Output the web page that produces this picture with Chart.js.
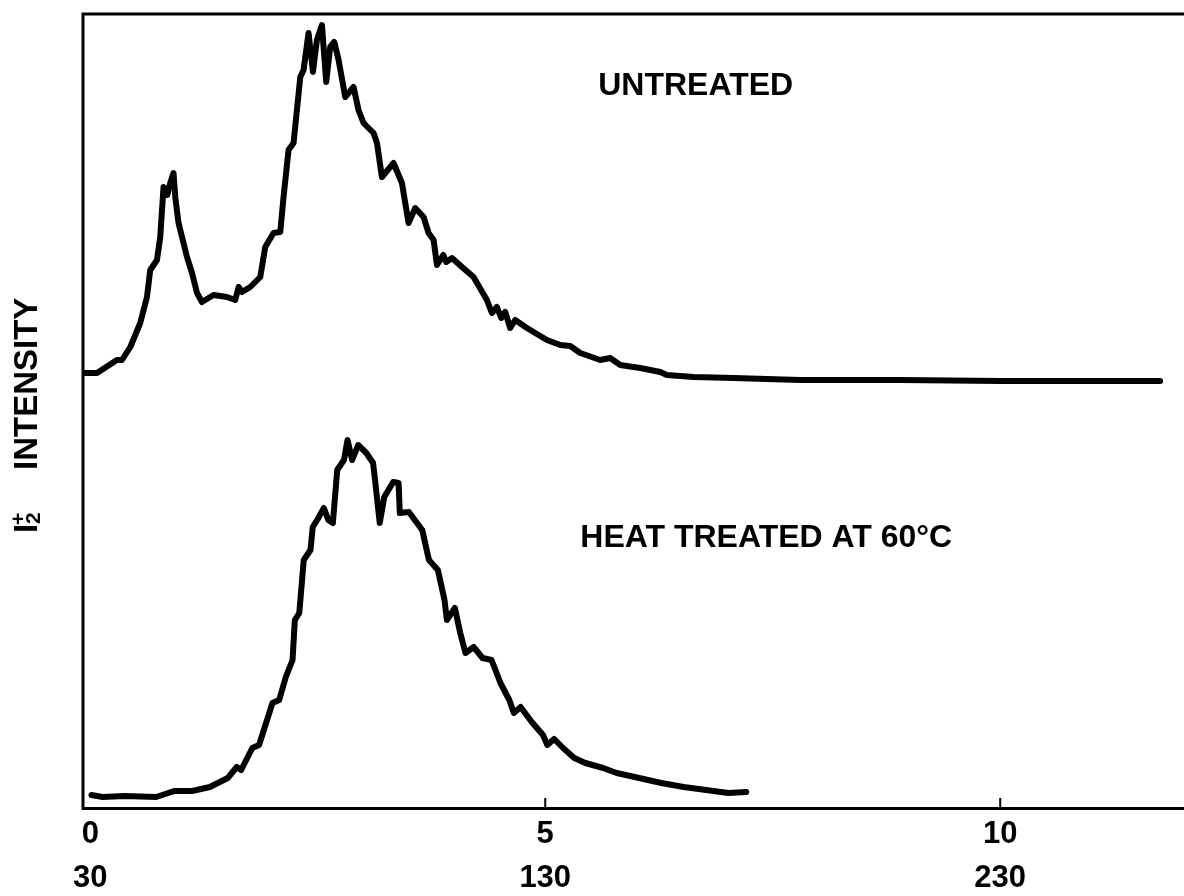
<!DOCTYPE html>
<html>
<head>
<meta charset="utf-8">
<script src="https://cdn.jsdelivr.net/npm/chart.js@4"></script>
<style>
  html, body { margin: 0; padding: 0; background: #fff; overflow: hidden; }
  #wrap { width: 1184px; height: 896px; }
</style>
</head>
<body>
<div id="wrap"><canvas id="chart"></canvas></div>
<script>
// x axis ticks: upper row (time) and lower row (temperature)
const timeTicks = [0, 5, 10];
const tempLabels = ['30', '130', '230'];

// untreated curve
const untreatedX = [-0.055, 0.074, 0.293, 0.348, 0.440, 0.549, 0.623, 0.659, 0.733, 0.769,
    0.805, 0.824, 0.846, 0.879, 0.915, 0.934, 0.970, 1.063, 1.118, 1.173,
    1.227, 1.355, 1.502, 1.593, 1.630, 1.667, 1.758, 1.868, 1.923, 2.014,
    2.088, 2.124, 2.179, 2.234, 2.308, 2.344, 2.399, 2.447, 2.491, 2.546,
    2.593, 2.637, 2.681, 2.729, 2.802, 2.893, 2.948, 3.003, 3.113, 3.151,
    3.205, 3.333, 3.425, 3.498, 3.571, 3.663, 3.718, 3.773, 3.810, 3.879,
    3.912, 3.975, 4.085, 4.212, 4.359, 4.414, 4.469, 4.516, 4.560, 4.615,
    4.670, 4.799, 4.945, 5.019, 5.165, 5.275, 5.385, 5.604, 5.714, 5.824,
    6.044, 6.264, 6.337, 6.630, 7.070, 7.802, 8.901, 10.000, 10.879, 11.758];
const untreatedY = [435, 435, 448, 448, 461, 485, 511, 538, 548, 571,
    621, 618, 613, 625, 635, 611, 585, 551, 535, 515,
    506, 513, 511, 508, 521, 516, 521, 531, 561, 575,
    576, 611, 658, 665, 731, 738, 775, 736, 768, 783,
    726, 761, 766, 748, 711, 721, 698, 685, 675, 665,
    631, 645, 625, 585, 600, 591, 575, 568, 543, 553,
    546, 550, 541, 531, 508, 495, 501, 490, 496, 480,
    488, 480, 472, 468, 463, 462, 455, 448, 450, 443,
    440, 436, 433, 431, 430, 428, 428, 427, 427, 427];

// heat treated curve
const heatX = [0.013, 0.136, 0.381, 0.725, 0.922, 1.119, 1.314, 1.511, 1.610, 1.658,
    1.781, 1.855, 2.002, 2.076, 2.149, 2.223, 2.248, 2.297, 2.346, 2.420,
    2.445, 2.493, 2.567, 2.616, 2.666, 2.714, 2.788, 2.827, 2.877, 2.945,
    3.034, 3.108, 3.132, 3.181, 3.231, 3.329, 3.388, 3.402, 3.501, 3.648,
    3.722, 3.820, 3.893, 3.919, 4.007, 4.066, 4.124, 4.213, 4.311, 4.410,
    4.508, 4.605, 4.655, 4.729, 4.852, 4.975, 5.023, 5.098, 5.196, 5.319,
    5.441, 5.637, 5.785, 6.031, 6.276, 6.522, 6.767, 7.013, 7.209];
const heatY = [13, 11, 12, 11, 17, 17, 21, 30, 41, 38,
    60, 63, 105, 108, 131, 148, 188, 195, 248, 258,
    281, 288, 300, 288, 285, 338, 348, 368, 348, 363,
    355, 345, 326, 285, 311, 326, 325, 295, 296, 278,
    248, 238, 208, 188, 200, 175, 155, 161, 150, 148,
    125, 108, 95, 101, 86, 73, 63, 69, 60, 50,
    45, 40, 35, 30, 25, 21, 18, 15, 16];

const fontFamily = "'Liberation Sans', Arial, sans-serif";

// texte dans le graphique
const curveNotes = [
    { text: 'UNTREATED', x: 5.582, y: 722 },
    { text: 'HEAT TREATED AT 60\u00B0C', x: 5.385, y: 270 }
];

function toPoints(xs, ys) {
    return xs.map((x, i) => ({ x: x, y: ys[i] }));
}

// cadre, petites graduations, annotations et titre de l'axe Y
const decorPlugin = {
    id: 'decor',
    afterDraw(chart) {
        const ctx = chart.ctx;
        const area = chart.chartArea;
        const xs = chart.scales.x;
        const ys = chart.scales.y;

        ctx.save();
        ctx.strokeStyle = '#000';
        ctx.lineCap = 'square';
        ctx.lineWidth = 3;
        ctx.beginPath();
        ctx.moveTo(area.left, area.bottom);
        ctx.lineTo(area.left, area.top);
        ctx.lineTo(area.right, area.top);
        ctx.stroke();

        // graduations vers l'intérieur
        ctx.lineWidth = 2;
        timeTicks.forEach(v => {
            if (v === 0) return;
            const px = xs.getPixelForValue(v);
            ctx.beginPath();
            ctx.moveTo(px, area.bottom);
            ctx.lineTo(px, area.bottom - 9);
            ctx.stroke();
        });

        ctx.fillStyle = '#000';
        ctx.font = 'bold 32px ' + fontFamily;
        ctx.textAlign = 'left';
        ctx.textBaseline = 'middle';
        curveNotes.forEach(n => {
            ctx.fillText(n.text, xs.getPixelForValue(n.x), ys.getPixelForValue(n.y));
        });

        // titre vertical : I2+ INTENSITY
        ctx.translate(37, 533);
        ctx.rotate(-Math.PI / 2);
        ctx.textBaseline = 'alphabetic';
        ctx.font = 'bold 33px ' + fontFamily;
        ctx.fillText('I', 0, 0);
        ctx.font = 'bold 21px ' + fontFamily;
        ctx.fillText('+', 8, -12);
        ctx.fillText('2', 9, 3);
        ctx.font = 'bold 33px ' + fontFamily;
        ctx.fillText('INTENSITY', 63, 0);
        ctx.restore();
    }
};

const ctx = document.getElementById('chart').getContext('2d');
new Chart(ctx, {
    type: 'line',
    data: {
        datasets: [
            {
                label: 'UNTREATED',
                data: toPoints(untreatedX, untreatedY),
                borderColor: '#000',
                borderWidth: 6,
                pointRadius: 0,
                borderJoinStyle: 'round',
                borderCapStyle: 'round',
                tension: 0
            },
            {
                label: 'HEAT TREATED AT 60\u00B0C',
                data: toPoints(heatX, heatY),
                borderColor: '#000',
                borderWidth: 6,
                pointRadius: 0,
                borderJoinStyle: 'round',
                borderCapStyle: 'round',
                tension: 0
            }
        ]
    },
    options: {
        responsive: true,
        maintainAspectRatio: false,
        animation: false,
        devicePixelRatio: 1,
        layout: { padding: { left: 83, top: 14, right: 0, bottom: 0 } },
        plugins: {
            legend: { display: false },
            tooltip: { enabled: false }
        },
        scales: {
            x: {
                type: 'linear',
                min: -0.08,
                max: 12.02,
                afterBuildTicks: (scale) => {
                    scale.ticks = timeTicks.map(v => ({ value: v }));
                },
                afterFit: (scale) => {
                    scale.height = 88;
                },
                grid: { display: false, drawTicks: false },
                border: { display: true, color: '#000', width: 3 },
                ticks: {
                    padding: 4,
                    maxRotation: 0,
                    autoSkip: false,
                    color: '#000',
                    font: { family: fontFamily, size: 31, weight: 'bold', lineHeight: 44 / 31 },
                    callback: (value) => {
                        const i = timeTicks.indexOf(value);
                        return i < 0 ? '' : [String(value), tempLabels[i]];
                    }
                }
            },
            y: {
                type: 'linear',
                display: false,
                min: 0,
                max: 794
            }
        }
    },
    plugins: [decorPlugin]
});
</script>
</body>
</html>
